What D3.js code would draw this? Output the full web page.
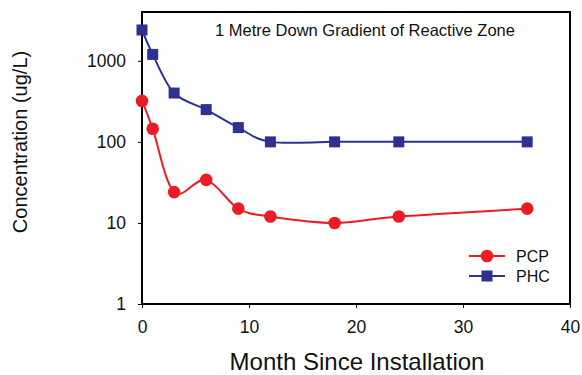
<!DOCTYPE html>
<html><head><meta charset="utf-8">
<script src="https://cdn.jsdelivr.net/npm/d3@7"></script>
<style>body{margin:0;background:#fff}svg{display:block}text{font-family:"Liberation Sans",Arial,sans-serif;fill:#111}</style>
</head><body><svg id="c" width="582" height="375"></svg>
<script>
const months = [0, 1, 3, 6, 9, 12, 18, 24, 36];
const pcp = [320, 145, 24, 34, 15, 12, 10, 12, 15];
const phc = [2400, 1200, 400, 250, 150, 100, 100, 100, 100];
const xTicks = [0, 10, 20, 30, 40];
const yTicks = [1, 10, 100, 1000];
const yTickLabels = ["1", "10", "100", "1000"];
const seriesNames = ["PCP", "PHC"];
const title = "1 Metre Down Gradient of Reactive Zone";

const svg = d3.select("#c");
const L = 142, R = 570, T = 12, B = 304;
const x = d3.scaleLinear().domain([0, 40]).range([L, R]);
const y = d3.scaleLog().domain([1, 4000]).range([B, T]);

// frame
svg.append("rect").attr("x", L).attr("y", T).attr("width", R - L).attr("height", B - T)
  .attr("fill", "none").attr("stroke", "#000").attr("stroke-width", 2);

const ya = svg.append("g").attr("transform", `translate(${L},0)`)
  .call(d3.axisLeft(y).tickValues(yTicks).tickFormat((d, i) => yTickLabels[i]).tickSize(4).tickPadding(12));
ya.select(".domain").remove();
ya.selectAll("text").attr("font-size", 17.5).attr("fill", "#111").style("font-family", '"Liberation Sans",Arial,sans-serif');

const xa = svg.append("g").attr("transform", `translate(0,${B})`)
  .call(d3.axisBottom(x).tickValues(xTicks).tickSize(4).tickPadding(13));
xa.select(".domain").remove();
xa.selectAll("text").attr("font-size", 17.5).attr("fill", "#111").style("font-family", '"Liberation Sans",Arial,sans-serif');

const line = d3.line().x(d => x(d[0])).y(d => y(d[1])).curve(d3.curveCardinal.tension(0));
const red = "#ed1c24", blue = "#2e3192";

svg.append("path").datum(months.map((m, i) => [m, phc[i]])).attr("d", line)
  .attr("fill", "none").attr("stroke", blue).attr("stroke-width", 2);
svg.append("path").datum(months.map((m, i) => [m, pcp[i]])).attr("d", line)
  .attr("fill", "none").attr("stroke", red).attr("stroke-width", 2);

svg.selectAll(".sq").data(months.map((m, i) => [m, phc[i]])).join("rect")
  .attr("x", d => x(d[0]) - 5.5).attr("y", d => y(d[1]) - 5.5).attr("width", 11).attr("height", 11).attr("fill", blue);
svg.selectAll(".ci").data(months.map((m, i) => [m, pcp[i]])).join("circle")
  .attr("cx", d => x(d[0])).attr("cy", d => y(d[1])).attr("r", 6.3).attr("fill", red);

// legend
const lg = [[red, 256], [blue, 276]];
lg.forEach(([c, ly], i) => {
  svg.append("line").attr("x1", 469).attr("x2", 505).attr("y1", ly).attr("y2", ly).attr("stroke", c).attr("stroke-width", 2);
  if (i === 0) svg.append("circle").attr("cx", 487).attr("cy", ly).attr("r", 6.3).attr("fill", c);
  else svg.append("rect").attr("x", 481.5).attr("y", ly - 5.5).attr("width", 11).attr("height", 11).attr("fill", c);
  svg.append("text").attr("x", 516).attr("y", ly + 6).attr("font-size", 16).text(seriesNames[i]);
});

svg.append("text").attr("x", 365).attr("y", 36).attr("text-anchor", "middle").attr("font-size", 16.5).text(title);
svg.append("text").attr("transform", "translate(27,142) rotate(-90)").attr("text-anchor", "middle").attr("font-size", 20).text("Concentration (ug/L)");
svg.append("text").attr("x", 357).attr("y", 370).attr("text-anchor", "middle").attr("font-size", 24).text("Month Since Installation");
</script></body></html>
